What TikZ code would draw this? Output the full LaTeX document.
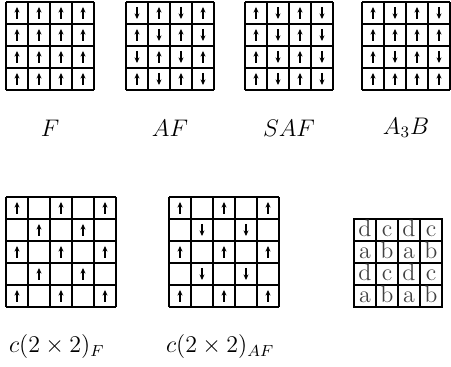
\documentclass[tikz,border=0pt]{standalone}
\usetikzlibrary{arrows.meta}
\tikzset{
  lattice/.style={line width=1.4pt},
  thinlattice/.style={line width=1.1pt},
  spin/.style={line width=0.9pt,-{Stealth[length=2.8pt,width=2.5pt]}},
  letter/.style={text=black!75,font=\large,inner sep=0pt,anchor=base},
  caption/.style={font=\large}
}
\begin{document}
\begin{tikzpicture}[x=0.5pt,y=0.5pt]
\useasboundingbox (0,0) rectangle (451,367);
% Top row: 4x4 ordered phases
\begin{scope}[shift={(6,277)}]
  \draw[lattice] (0,0) grid[step=22] (88,88);
  \foreach \c in {0,...,3}
    \foreach \r in {0,...,3}
      \draw[spin] (11+22*\c,71-22*\r) -- ++(0,12);
\end{scope}
\begin{scope}[shift={(126,277)}]
  \draw[lattice] (0,0) grid[step=22] (88,88);
  \foreach \c in {0,...,3}
    \foreach \r in {0,...,3} {
      \pgfmathsetmacro\d{ifthenelse(mod(\c+\r,2)==1,1,-1)}
      \draw[spin] (11+22*\c,77-22*\r-6*\d) -- ++(0,12*\d);
    }
\end{scope}
\begin{scope}[shift={(245,277)}]
  \draw[lattice] (0,0) grid[step=22] (88,88);
  \foreach \c in {0,...,3}
    \foreach \r in {0,...,3} {
      \pgfmathsetmacro\d{ifthenelse(mod(\c,2)==0,1,-1)}
      \draw[spin] (11+22*\c,77-22*\r-6*\d) -- ++(0,12*\d);
    }
\end{scope}
\begin{scope}[shift={(362,277)}]
  \draw[thinlattice] (0,0) grid[step=22] (88,88);
  \foreach \c in {0,...,3}
    \foreach \r in {0,...,3} {
      \pgfmathsetmacro\d{ifthenelse(mod(\c,2)==0 || mod(\r,2)==1,1,-1)}
      \draw[spin] (11+22*\c,77-22*\r-6*\d) -- ++(0,12*\d);
    }
\end{scope}
\node[caption] (lblF) at (50,239) {$F$};
\node[caption] (lblAF) at (170,239) {$AF$};
\node[caption] (lblSAF) at (289,239) {$SAF$};
\node[caption] (lblAB) at (406,239) {$A_3B$};
% Bottom row: c(2x2) phases and sublattices
\begin{scope}[shift={(6,60)}]
  \draw[thinlattice] (0,0) grid[step=22] (110,110);
  \foreach \c in {0,...,4}
    \foreach \r in {0,...,4} {
      \pgfmathtruncatemacro\s{mod(\c+\r,2)}
      \ifnum\s=0 \draw[spin] (11+22*\c,93-22*\r) -- ++(0,12);\fi
    }
\end{scope}
\begin{scope}[shift={(169,60)}]
  \draw[thinlattice] (0,0) grid[step=22] (110,110);
  \foreach \c in {0,...,4}
    \foreach \r in {0,...,4} {
      \pgfmathtruncatemacro\s{mod(\c+\r,2)}
      \pgfmathsetmacro\d{ifthenelse(mod(\r,2)==0,1,-1)}
      \ifnum\s=0 \draw[spin] (11+22*\c,99-22*\r-6*\d) -- ++(0,12*\d);\fi
    }
\end{scope}
\begin{scope}[shift={(354,60)}]
  \draw[line width=0.6pt] (0,0) grid[step=22] (88,88);
  \draw[thinlattice] (0,0) rectangle (88,88);
  \foreach \r/\p/\q in {0/d/c,1/a/b,2/d/c,3/a/b}
    \foreach \c in {0,2} {
      \node[letter] at (11+22*\c,70-22*\r) {\p};
      \node[letter] at (33+22*\c,70-22*\r) {\q};
    }
\end{scope}
\node[caption,anchor=base west] (lblcF) at (2,14) {$c(2\times2)_F$};
\node[caption,anchor=base west] (lblcAF) at (159,14) {$c(2\times2)_{AF}$};
\end{tikzpicture}
\end{document}
